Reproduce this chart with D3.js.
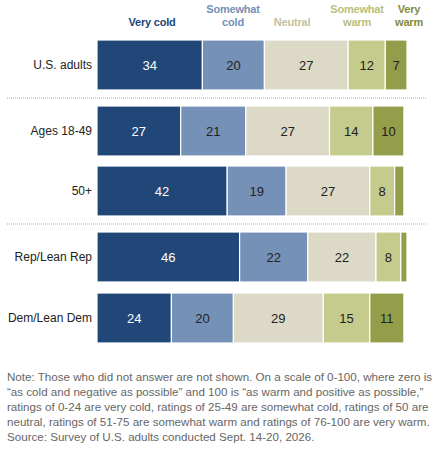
<!DOCTYPE html>
<html>
<head>
<meta charset="utf-8">
<script src="https://cdn.jsdelivr.net/npm/d3@7"></script>
<style>
  body { margin: 0; background: #fff; font-family: "Liberation Sans", Arial, sans-serif; }
  .note { position: absolute; left: 7px; top: 369px; width: 430px; font-size: 11.6px; line-height: 15px; color: #666; }
</style>
</head>
<body>
<div id="chart"></div>
<div class="note">Note: Those who did not answer are not shown. On a scale of 0-100, where zero is “as cold and negative as possible” and 100 is “as warm and positive as possible,” ratings of 0-24 are very cold, ratings of 25-49 are somewhat cold, ratings of 50 are neutral, ratings of 51-75 are somewhat warm and ratings of 76-100 are very warm.<br>Source: Survey of U.S. adults conducted Sept. 14-20, 2026.</div>
<script>
var groups = ["U.S. adults", "Ages 18-49", "50+", "Rep/Lean Rep", "Dem/Lean Dem"];
var series = ["Very cold", "Somewhat cold", "Neutral", "Somewhat warm", "Very warm"];
var veryCold = [34, 27, 42, 46, 24];
var somewhatCold = [20, 21, 19, 22, 20];
var neutral = [27, 27, 27, 22, 29];
var somewhatWarm = [12, 14, 8, 8, 15];
var veryWarm = [7, 10, 3, 2, 11];

var colors = ["#204777", "#7591b7", "#dcd9c6", "#c5cb8d", "#949d4a"];
var textColors = ["#fff", "#222", "#222", "#222", "#222"];
var headColors = ["#204777", "#7591b7", "#c4bfa0", "#b9c07a", "#838b3c"];
var rowTops = [40, 106, 166, 232, 293];
var barHeight = 50;

var values = [veryCold, somewhatCold, neutral, somewhatWarm, veryWarm];
var data = groups.map((g, i) => {
  var x0 = 0;
  return { group: g, top: rowTops[i], segs: values.map((v, k) => {
    var s = { k, v: v[i], x0 };
    x0 += v[i];
    return s;
  })};
});

var svg = d3.select("#chart").append("svg").attr("width", 442).attr("height", 464);
var x = d3.scaleLinear().domain([0, 100]).range([97, 407]);

// header
var heads = [["Very cold"], ["Somewhat", "cold"], ["Neutral"], ["Somewhat", "warm"], ["Very", "warm"]];
var headX = [152, 233, 292, 357, 409];
heads.forEach((lines, k) => {
  var t = svg.append("text").attr("text-anchor", "middle").attr("fill", headColors[k])
    .attr("font-size", 11).attr("font-weight", "bold").attr("letter-spacing", "-0.2");
  var y0 = lines.length == 1 ? 26 : 13;
  lines.forEach((l, j) => t.append("tspan").attr("x", headX[k]).attr("y", y0 + j * 13).text(l));
});

// separators
[98, 224].forEach(y => svg.append("line").attr("x1", 7).attr("x2", 426).attr("y1", y).attr("y2", y)
  .attr("stroke", "#aaa").attr("stroke-dasharray", "1,1"));

var rows = svg.selectAll("g.row").data(data).enter().append("g").attr("class", "row");
rows.append("text").attr("x", 92).attr("y", d => d.top + barHeight / 2 + 4)
  .attr("text-anchor", "end").attr("font-size", 12).attr("fill", "#222").text(d => d.group);

var segs = rows.selectAll("g.seg").data(d => d.segs.map(s => Object.assign({ top: d.top }, s)))
  .enter().append("g");
segs.append("rect")
  .attr("x", d => x(d.x0)).attr("y", d => d.top)
  .attr("width", d => x(d.x0 + d.v) - x(d.x0)).attr("height", barHeight)
  .attr("fill", d => colors[d.k]).attr("stroke", "#fff").attr("stroke-width", 1.2);
segs.filter(d => d.v >= 5).append("text")
  .attr("x", d => (x(d.x0) + x(d.x0 + d.v)) / 2).attr("y", d => d.top + barHeight / 2 + 5)
  .attr("text-anchor", "middle").attr("font-size", 13).attr("fill", d => textColors[d.k])
  .text(d => d.v);
</script>
</body>
</html>
